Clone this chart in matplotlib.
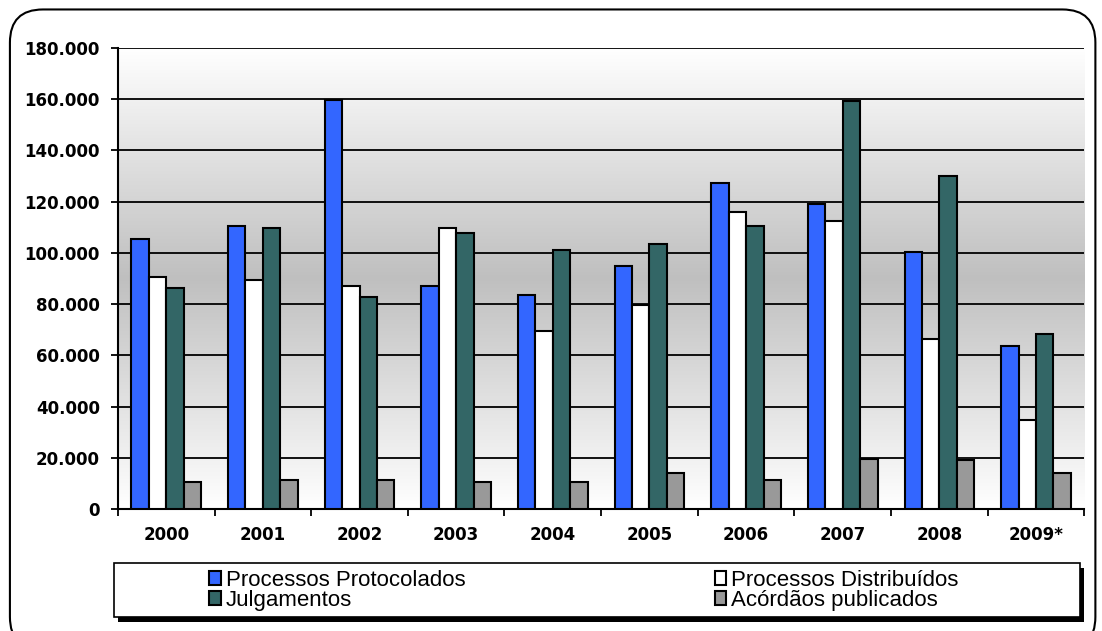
import numpy as np
import matplotlib.pyplot as plt
from matplotlib.patches import FancyBboxPatch, Rectangle
from matplotlib.ticker import FuncFormatter, FixedLocator

years = ['2000', '2001', '2002', '2003', '2004', '2005', '2006', '2007', '2008', '2009*']
protocolados = [105400, 110500, 159700, 87100, 83600, 94900, 127300, 119100, 100300, 63600]
distribuidos = [90600, 89400, 87100, 109700, 69500, 79700, 116000, 112500, 66400, 34800]
julgamentos = [86300, 109700, 82800, 107800, 101100, 103500, 110500, 159300, 130000, 68300]
acordaos = [10500, 11300, 11300, 10500, 10500, 14100, 11300, 19500, 19100, 14100]

series = [('Processos Protocolados', protocolados, '#3366ff'),
          ('Processos Distribuídos', distribuidos, '#ffffff'),
          ('Julgamentos', julgamentos, '#336666'),
          ('Acórdãos publicados', acordaos, '#999999')]

fig = plt.figure(figsize=(11.02, 6.31), dpi=100)

# rounded outer frame (bottom runs off the canvas like the original screenshot)
frame = FancyBboxPatch((0.009, -0.03), 0.985, 1.015, boxstyle='round,pad=0,rounding_size=0.03',
                       transform=fig.transFigure, facecolor='white', edgecolor='black',
                       linewidth=1.5, zorder=-1, mutation_aspect=1102 / 631)
fig.patches.append(frame)

ax = fig.add_axes([0.107, 0.193, 0.877, 0.731])
ax.set_zorder(1)
ax.set_facecolor('none')

# vertical gradient white -> grey -> white
t = np.linspace(0, 1, 256)
shade = 0.75 + 0.25 * np.abs(t - 0.5) / 0.5
grad = np.dstack([shade, shade, shade]).reshape(256, 1, 3)
ax.imshow(grad, extent=[-0.5, 9.5, 0, 180000], aspect='auto', origin='lower', zorder=0)

x = np.arange(len(years))
w = 0.18
for i, (name, vals, color) in enumerate(series):
    ax.bar(x + (i - 1.5) * w, vals, width=w, color=color, edgecolor='black',
           linewidth=1.5, label=name, zorder=3)

ax.set_xlim(-0.5, 9.5)
ax.set_ylim(0, 180000)
ax.set_yticks(np.arange(0, 180001, 20000))
ax.yaxis.set_major_formatter(FuncFormatter(lambda v, p: '{:,.0f}'.format(v).replace(',', '.')))
ax.grid(axis='y', color='black', linewidth=1.3, zorder=1)
ax.set_axisbelow(False)

ax.set_xticks(x)
ax.set_xticklabels(years)
ax.xaxis.set_minor_locator(FixedLocator(np.arange(-0.5, 10, 1)))
ax.tick_params(axis='x', which='major', length=0, pad=12)
ax.tick_params(axis='x', which='minor', length=5, width=1.3, direction='out')
ax.tick_params(axis='y', length=5, width=1.3, direction='out', pad=8)
for lbl in ax.get_xticklabels() + ax.get_yticklabels():
    lbl.set_fontfamily('DejaVu Sans')
    lbl.set_fontweight('bold')
    lbl.set_fontsize(12)

for s in ['top', 'right']:
    ax.spines[s].set_visible(False)
for s in ['left', 'bottom']:
    ax.spines[s].set_linewidth(1.5)

# legend box with shadow
lx0, ly0, lw, lh = 0.103, 0.022, 0.877, 0.085
fig.patches.append(Rectangle((lx0 + 0.004, ly0 - 0.007), lw, lh, transform=fig.transFigure,
                             facecolor='black', edgecolor='none', zorder=1))
fig.patches.append(Rectangle((lx0, ly0), lw, lh, transform=fig.transFigure,
                             facecolor='white', edgecolor='black', linewidth=1.2, zorder=2))
handles, labels = ax.get_legend_handles_labels()
order = [0, 2, 1, 3]
leg = fig.legend([handles[i] for i in order], [labels[i] for i in order], ncol=2, loc='center',
                 bbox_to_anchor=(0.53, ly0 + lh / 2), frameon=False,
                 prop={'family': 'Liberation Sans', 'size': 16},
                 handlelength=0.5, handleheight=0.6, handletextpad=0.25, labelspacing=-0.05,
                 columnspacing=11.2, borderpad=0)
leg.set_zorder(3)

fig.savefig('out.png', dpi=100)
